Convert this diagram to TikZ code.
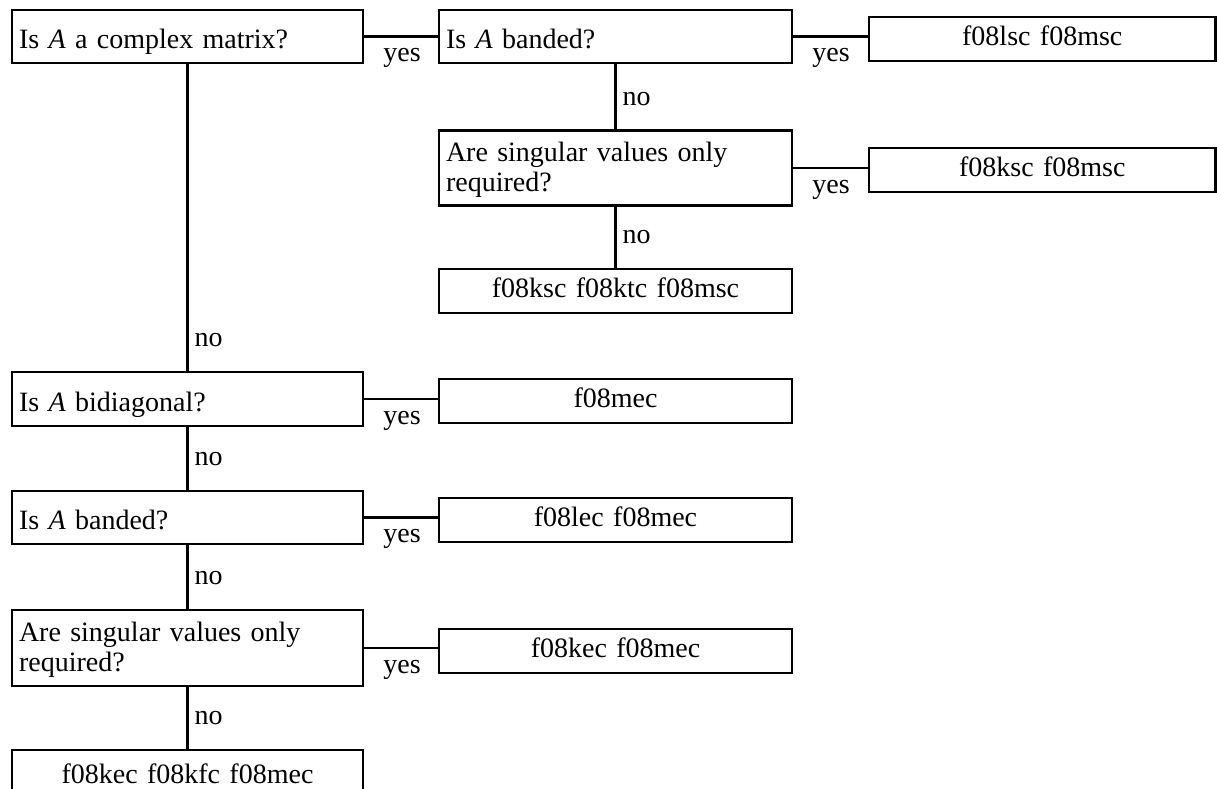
\documentclass[tikz,border=0pt]{standalone}
\usepackage{fontspec}
\setmainfont{Liberation Serif}
\newcommand\chartfont{\fontsize{28}{30}\selectfont\spaceskip=0.36em\relax}
\tikzset{
  box/.style={draw, rectangle, line width=2.5pt, inner ysep=0pt, inner xsep=7pt, font=\chartfont},
  question/.style={box, align=left, text height=24.6pt, text depth=0pt, minimum height=53pt},
  twoline/.style={box, align=left, text height=20pt, text depth=34pt, minimum height=75pt},
  result/.style={box, align=center, text height=19pt, text depth=6pt, minimum height=44pt},
  leftcol/.style={text width=337pt},
  midcol/.style={text width=339pt},
  rightcol/.style={text width=332.5pt},
  conn/.style={line width=2.5pt},
  lab/.style={font=\chartfont, inner sep=0pt, anchor=base west}
}
\begin{document}
\begin{tikzpicture}[x=1pt,y=-1pt]
\useasboundingbox (0,0) rectangle (1217,789);

% decision boxes and results
\node[question, leftcol] (q1) at (187.5,36.5) {Is \textit{A} a complex matrix?};
\node[question, midcol]  (q2) at (615.5,36.5) {Is \textit{A} banded?};
\node[result, rightcol]  (r1) at (1042.25,39) {f08lsc f08msc};
\node[twoline, midcol]   (q3) at (615.5,168) {Are singular values only\\required?};
\node[result, rightcol]  (r2) at (1042.25,170) {f08ksc f08msc};
\node[result, midcol]    (r3) at (615.5,291) {f08ksc f08ktc f08msc};
\node[question, leftcol, minimum height=54pt] (q4) at (187.5,399) {Is \textit{A} bidiagonal?};
\node[result, midcol]    (r4) at (615.5,401) {f08mec};
\node[question, leftcol] (q5) at (187.5,517.5) {Is \textit{A} banded?};
\node[result, midcol]    (r5) at (615.5,520) {f08lec f08mec};
\node[twoline, leftcol, minimum height=76pt] (q6) at (187.5,648) {Are singular values only\\required?};
\node[result, midcol]    (r6) at (615.5,651) {f08kec f08mec};
\node[result, leftcol, minimum height=54pt] (r7) at (187.5,777) {f08kec f08kfc f08mec};

% connectors
\draw[conn] (q1.east) -- (q2.west);
\draw[conn] (q2.east) -- (q2.east -| r1.west);
\draw[conn] (q2.south) -- (q3.north);
\draw[conn] (q3.east) -- (q3.east -| r2.west);
\draw[conn] (q3.south) -- (r3.north);
\draw[conn] (q1.south) -- (q4.north);
\draw[conn] (q4.east) -- (q4.east -| r4.west);
\draw[conn] (q4.south) -- (q5.north);
\draw[conn] (q5.east) -- (q5.east -| r5.west);
\draw[conn] (q5.south) -- (q6.north);
\draw[conn] (q6.east) -- (q6.east -| r6.west);
\draw[conn] (q6.south) -- (r7.north);

% branch labels
\node[lab] (y1) at ([xshift=19pt,yshift=-25pt]q1.east) {yes};
\node[lab] (y2) at ([xshift=19pt,yshift=-25pt]q2.east) {yes};
\node[lab] (y3) at ([xshift=19pt,yshift=-25pt]q3.east) {yes};
\node[lab] (y4) at ([xshift=19pt,yshift=-25pt]q4.east) {yes};
\node[lab] (y5) at ([xshift=19pt,yshift=-25pt]q5.east) {yes};
\node[lab] (y6) at ([xshift=19pt,yshift=-25pt]q6.east) {yes};
\node[lab] (n1) at ([xshift=7pt,yshift=24pt]q3.north) {no};
\node[lab] (n2) at ([xshift=7pt,yshift=24pt]r3.north) {no};
\node[lab] (n3) at ([xshift=7pt,yshift=24pt]q4.north) {no};
\node[lab] (n4) at ([xshift=7pt,yshift=24pt]q5.north) {no};
\node[lab] (n5) at ([xshift=7pt,yshift=24pt]q6.north) {no};
\node[lab] (n6) at ([xshift=7pt,yshift=24pt]r7.north) {no};
\end{tikzpicture}
\end{document}
